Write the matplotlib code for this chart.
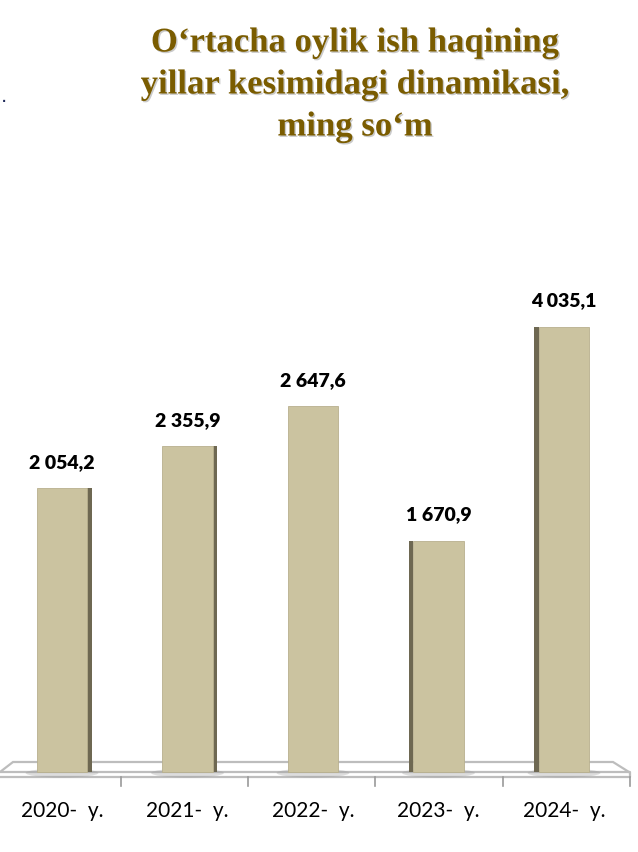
import matplotlib.pyplot as plt
from matplotlib.patches import Polygon, Ellipse
import matplotlib.patheffects as pe

# data
years = ['2020-  y.', '2021-  y.', '2022-  y.', '2023-  y.', '2024-  y.']
values = [2054.2, 2355.9, 2647.6, 1670.9, 4035.1]
labels = ['2 054,2', '2 355,9', '2 647,6', '1 670,9', '4 035,1']
# the source chart draws the 2024 bar shorter than its label says
bar_heights = [2054.2, 2355.9, 2647.6, 1670.9, 3220.0]

W, H = 638, 853
fig = plt.figure(figsize=(W / 100, H / 100), dpi=100)
ax = fig.add_axes([0, 0, 1, 1])

# pixel layout of the original picture
x0_px, step_px = 62, 125.5    # centre of first bar, bar spacing
base_px, scale = 773, 0.1382  # bar baseline, pixels per unit


def fx(px):
    return (px - x0_px) / step_px


def fy(py):
    return (base_px - py) / scale


ax.set_xlim(fx(0), fx(W))
ax.set_ylim(fy(H), fy(0))
ax.axis('off')

face = '#CBC3A0'
side = '#6E6852'
grey = '#BDBDBD'

# floor
floor = Polygon([(fx(0), fy(773)), (fx(13), fy(763)), (fx(613), fy(763)), (fx(629), fy(773))],
                closed=True, facecolor='white', edgecolor=grey, lw=1.6, zorder=1)
ax.add_patch(floor)
ax.plot([fx(0), fx(630), fx(630), fx(629)], [fy(778), fy(778), fy(773), fy(773)],
        color=grey, lw=1.6, zorder=1)
for t in [121, 248, 375, 503, 630]:
    ax.plot([fx(t), fx(t)], [fy(778), fy(787)], color='#9A9A9A', lw=1.2, zorder=1)

xs = list(range(len(years)))
bw = 0.40
sw = 0.038
for i, h in enumerate(bar_heights):
    ax.add_patch(Ellipse((xs[i], fy(774)), bw * 1.45, 9 / scale, color='#9E9E9E', alpha=0.35,
                         lw=0, zorder=2))
    # dark side face, on the side facing away from the middle
    if i < 2:
        ax.bar(xs[i] + bw / 2 + sw / 2, h, width=sw, color=side, zorder=3)
    elif i > 2:
        ax.bar(xs[i] - bw / 2 - sw / 2, h, width=sw * 0.9, color=side, zorder=3)

ax.bar(xs, bar_heights, width=bw, color=face, edgecolor='#B8B08E', lw=0.6, zorder=4)

for i, h in enumerate(bar_heights):
    ax.text(xs[i], h + 27 / scale, labels[i], ha='center', va='center', fontsize=14,
            fontweight='heavy', family='Lato', color='black', zorder=5)
    ax.text(xs[i], fy(811), years[i], ha='center', va='center', fontsize=15,
            family='Lato', color='black')

title_lines = ['O\u2018rtacha oylik ish haqining', 'yillar kesimidagi dinamikasi,', 'ming so\u2018m']
for k, line in enumerate(title_lines):
    t = fig.text(355 / W, 1 - (44 + 42 * k) / H, line, ha='center', va='center', fontsize=25,
                 fontweight='bold', family='Liberation Serif', color='#7A5C00')
    t.set_path_effects([pe.SimplePatchShadow(offset=(1, -1), shadow_rgbFace='#8A8A8A', alpha=0.45),
                        pe.Normal()])

fig.text(4 / W, 1 - 97 / H, '.', ha='center', va='center', fontsize=14, color='#1F2A5A')

fig.savefig('out.png', dpi=100)
